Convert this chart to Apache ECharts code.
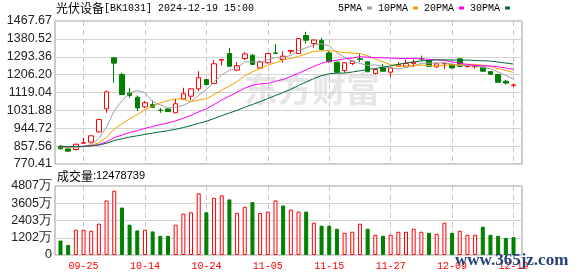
<!DOCTYPE html>
<html><head><meta charset="utf-8">
<script src="https://cdn.jsdelivr.net/npm/echarts@6/dist/echarts.min.js"></script>
<style>html,body{margin:0;padding:0;background:#fff}#c{width:578px;height:276px}</style>
</head><body><div id="c"></div>
<script>
// ---- data ----
const dates = ['09-20','09-23','09-24','09-25','09-26','09-27','09-30','10-08','10-09','10-10',
  '10-11','10-14','10-15','10-16','10-17','10-18','10-21','10-22','10-23','10-24',
  '10-25','10-28','10-29','10-30','10-31','11-01','11-04','11-05','11-06','11-07',
  '11-08','11-11','11-12','11-13','11-14','11-15','11-18','11-19','11-20','11-21',
  '11-22','11-25','11-26','11-27','11-28','11-29','12-02','12-03','12-04','12-05',
  '12-06','12-09','12-10','12-11','12-12','12-13','12-16','12-17','12-18','12-19'];
const opens  = [857,844,841,872,877,927,1039,1288,1207,1117, 1096,1049,1060,1033,1039,1020,1088,1101,1137,1182,
  1163,1277,1309,1228,1285,1301,1239,1264,1312,1280, 1320,1309,1397,1358,1373,1312,1267,1226,1260,1283,
  1269,1212,1239,1218,1247,1247,1260,1284,1275,1244, 1259,1256,1283,1245,1245,1243,1221,1207,1174,1154];
const closes = [845,833,867,874,908,987,1122,1262,1109,1104, 1044,1069,1047,1031,1026,1064,1113,1137,1191,1158,
  1259,1280,1247,1250,1307,1256,1267,1309,1310,1296, 1324,1382,1374,1375,1329,1269,1218,1264,1272,1281,
  1220,1231,1223,1239,1255,1260,1267,1282,1247,1259, 1262,1239,1247,1248,1249,1223,1208,1169,1165,1156];
const lows   = [841,828,836,871,870,925,1020,1166,1108,1093, 1028,1044,1045,1020,1025,1018,1085,1082,1126,1155,
  1160,1252,1245,1223,1278,1252,1234,1260,1307,1264, 1308,1307,1358,1337,1325,1264,1215,1215,1252,1267,
  1218,1207,1220,1195,1243,1239,1243,1272,1245,1240, 1234,1235,1244,1242,1236,1220,1205,1168,1158,1145];
const highs  = [862,846,869,898,910,990,1129,1290,1215,1142, 1104,1077,1080,1044,1040,1088,1142,1140,1223,1185,
  1277,1281,1337,1267,1317,1307,1275,1312,1355,1320, 1325,1383,1415,1376,1386,1320,1269,1267,1274,1312,
  1270,1233,1259,1240,1267,1280,1280,1299,1277,1262, 1264,1260,1288,1249,1251,1245,1222,1208,1181,1163];
// volume in 万 (10k)
const volumes = [1008,704,1760,1760,1689,2182,3800,4480,3308,2111, 1712,1760,1642,1337,1337,2111,2885,2979,4293,2979,
  3988,4152,3871,2932,3354,3683,2932,3026,3800,3449, 3167,3026,3026,2252,2041,2041,1830,1548,1619,2182,
  1830,1408,1337,1408,1619,1619,1830,1619,1548,1478, 2252,1548,1689,1408,1408,1971,1408,1337,1196,1247.87];
const preWindowClose = 857; // close level before the window (where all MA lines start)
const priceTicks = ['1467.67','1380.52','1293.36','1206.20','1119.04','1031.88','944.72','857.56','770.41'];
const volTicks = ['4807万','3605万','2403万','1202万','0'];
const maPeriods = [5,10,20,30];
const maNames = ['5PMA','10PMA','20PMA','30PMA'];
const maColors = ['#a0a0a0','#f5a000','#ff00ff','#006b38'];
const titleMain = '光伏设备';
const titleRest = '[BK1031] 2024-12-19 15:00';
const volLabel = '成交量';
const volLast = '12478739';

// ---- build ----
const UP = '#ff0000', DOWN = '#008000';
const candleData = dates.map((d, i) => [opens[i], closes[i], lows[i], highs[i]]);
function ma(n) {
  return closes.map((c, i) => {
    let s = 0;
    for (let k = i - n + 1; k <= i; k++) s += (k < 0 ? preWindowClose : closes[k]);
    return +(s / n).toFixed(2);
  });
}
const volData = volumes.map((v, i) => {
  const up = i === 0 ? closes[0] >= opens[0] : closes[i] >= closes[i - 1];
  return { value: v, itemStyle: up ? { color: '#fff', borderColor: UP, borderWidth: 1 } : { color: DOWN, borderColor: DOWN, borderWidth: 1 } };
});
const showIdx = (i) => i % 8 === 3;
const dash = { color: '#c8c8c8', type: [5, 4], width: 1 };
const labelFont = { color: '#222', fontSize: 12.5, fontFamily: 'Liberation Sans', margin: 3 };

const chart = echarts.init(document.getElementById('c'));
const maSeries = maPeriods.map((p, k) => ({
  name: maNames[k], type: 'line', xAxisIndex: 1, yAxisIndex: 1, data: ma(p),
  symbol: 'none', lineStyle: { width: 1, color: maColors[k] }, itemStyle: { color: maColors[k] },
  silent: true, clip: false, z: 3
}));
chart.setOption({
  animation: false,
  backgroundColor: '#fff',
  title: [
    { text: '{c|' + titleMain + '}{a|' + titleRest + '}', left: 56, top: 2, padding: 0,
      textStyle: { fontWeight: 'normal', rich: { c: { fontFamily: 'Noto Sans CJK SC', fontSize: 12, fontWeight: 'normal', color: '#000' },
                            a: { fontFamily: 'Liberation Mono', fontSize: 10, fontWeight: 'normal', color: '#000' } } } },
    { text: '{c|' + volLabel + '}{a|:' + volLast + '}', left: 57, top: 170, padding: 0,
      textStyle: { fontWeight: 'normal', rich: { c: { fontFamily: 'Noto Sans CJK SC', fontSize: 12, fontWeight: 'normal', color: '#000' },
                            a: { fontFamily: 'Liberation Sans', fontSize: 11, fontWeight: 'normal', color: '#000' } } } }
  ],
  legend: {
    data: maNames, left: 338, top: 3, align: 'right', icon: 'rect', itemWidth: 5, itemHeight: 3,
    itemGap: 6, padding: 0, selectedMode: false,
    textStyle: { fontFamily: 'Liberation Mono', fontSize: 10, color: '#000' }
  },
  grid: [
    { left: 55, top: 21, width: 467, height: 143, show: true, borderColor: '#999', borderWidth: 1, backgroundColor: 'transparent' },
    { left: 60.5, top: 21, width: 453, height: 143 },
    { left: 55, top: 186, width: 467, height: 69, show: true, borderColor: '#999', borderWidth: 1, backgroundColor: 'transparent' },
    { left: 60.5, top: 186, width: 453, height: 69 }
  ],
  xAxis: [
    { gridIndex: 0, type: 'value', min: 0, max: 1, show: false },
    { gridIndex: 1, type: 'category', data: dates, boundaryGap: false,
      axisLine: { show: false }, axisTick: { show: false }, axisLabel: { show: false },
      splitLine: { show: true, interval: showIdx, lineStyle: dash } },
    { gridIndex: 2, type: 'value', min: 0, max: 1, show: false },
    { gridIndex: 3, type: 'category', data: dates, boundaryGap: false,
      axisLine: { show: false }, axisTick: { show: false },
      axisLabel: { show: true, interval: showIdx, color: '#ff0000', fontFamily: 'Liberation Mono', fontSize: 10, margin: 6 },
      splitLine: { show: true, interval: showIdx, lineStyle: dash } }
  ],
  yAxis: [
    { gridIndex: 0, type: 'value', min: 0, max: 8, interval: 1,
      axisLine: { show: false }, axisTick: { show: false },
      axisLabel: Object.assign({ formatter: v => priceTicks[8 - Math.round(v)] }, labelFont),
      splitLine: { show: true, lineStyle: { color: '#d4d4d4', width: 1 } } },
    { gridIndex: 1, type: 'value', min: 770.41, max: 1467.67, show: false, splitLine: { show: false } },
    { gridIndex: 2, type: 'value', min: 0, max: 4, interval: 1,
      axisLine: { show: false }, axisTick: { show: false },
      axisLabel: Object.assign({ formatter: v => volTicks[4 - Math.round(v)] }, labelFont),
      splitLine: { show: true, lineStyle: { color: '#d4d4d4', width: 1 } } },
    { gridIndex: 3, type: 'value', min: 0, max: 4806.8, show: false, splitLine: { show: false } }
  ],
  graphic: [
    { type: 'text', left: 244, top: 72, z: -1, silent: true,
      style: { text: '东方财富', font: 'bold 34px "Noto Sans CJK SC"', fill: '#e6e6e9' } },
    { type: 'text', left: 455, top: 252, z: 100, silent: true,
      style: { text: 'www.365jz.com', font: 'bold 17px "Liberation Serif"', fill: '#24427a' } }
  ],
  series: [
    { type: 'candlestick', xAxisIndex: 1, yAxisIndex: 1, data: candleData, barWidth: 5, clip: false,
      itemStyle: { color: '#fff', color0: DOWN, borderColor: UP, borderColor0: DOWN, borderWidth: 1 }, z: 2 },
    ...maSeries,
    { type: 'bar', xAxisIndex: 3, yAxisIndex: 3, data: volData, barWidth: 4, clip: false, silent: true }
  ]
});
</script></body></html>
